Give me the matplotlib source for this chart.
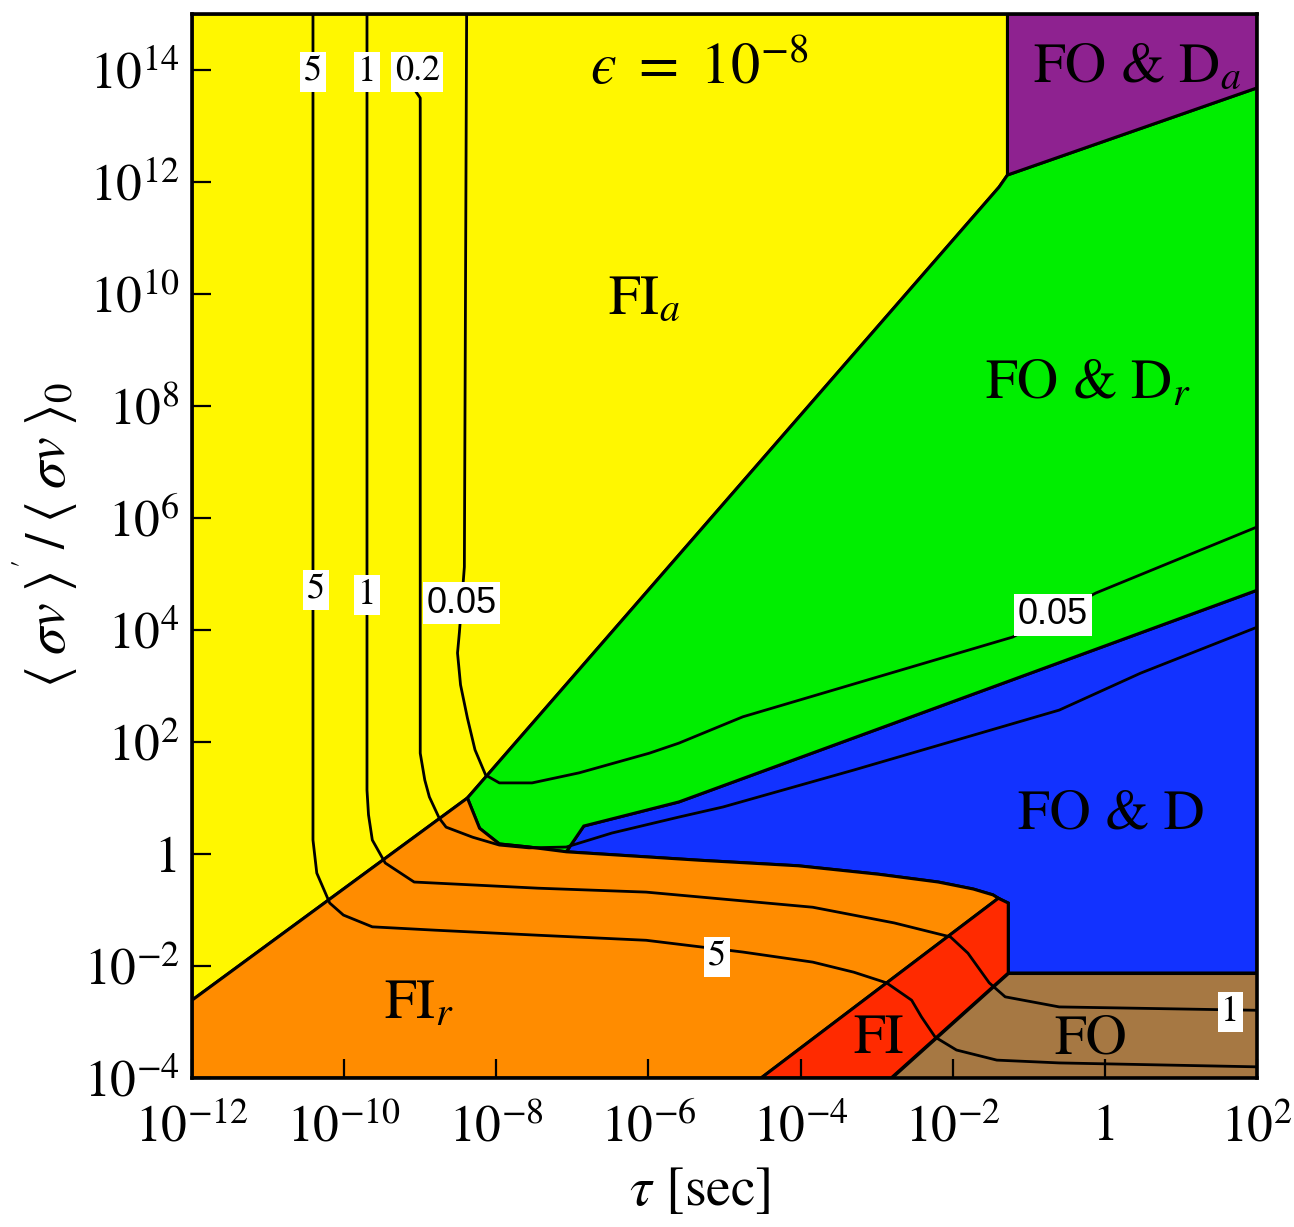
import matplotlib.pyplot as plt
import numpy as np

plt.rcParams["mathtext.fontset"] = "stix"
plt.rcParams["font.family"] = ["STIXGeneral", "Liberation Serif", "DejaVu Serif"]

# all coordinates are log10(tau / sec) and log10(<sv>'/<sv>_0)
x_ticks = [-12, -10, -8, -6, -4, -2, 0, 2]
y_ticks = [-4, -2, 0, 2, 4, 6, 8, 10, 12, 14]

# shared boundary pieces
orange_top = [(-7.08, 0.04), (-5.34, -0.11), (-4.03, -0.21), (-2.98, -0.36),
              (-2.19, -0.50), (-1.73, -0.625), (-1.47, -0.73), (-1.40, -0.79)]
green_blue = [(-7.08, 0.04), (-6.85, 0.50), (-5.60, 0.93), (2.0, 4.71)]

regions = {
    "FI_a": ("#FFF700", [(-12, -2.61), (-12, 15), (-1.28, 15), (-1.28, 12.125),
                         (-1.39, 11.91), (-8.38, 1.0)]),
    "FOD": ("#1232FF", green_blue + [(2.0, -2.125), (-1.27, -2.125), (-1.27, -0.875)]
            + orange_top[::-1]),
    "FOD_r": ("#00EE00", [(-8.38, 1.0), (-1.39, 11.91), (-1.28, 12.125), (2.0, 13.68)]
              + green_blue[::-1] + [(-7.57, 0.125), (-7.96, 0.18), (-8.22, 0.46)]),
    "FI_r": ("#FF8C00", [(-12, -4), (-12, -2.61), (-8.38, 1.0), (-8.22, 0.46),
                         (-7.96, 0.18), (-7.57, 0.125)] + orange_top + [(-4.52, -4)]),
    "FI": ("#FF2A00", [(-1.40, -0.79), (-1.27, -0.875), (-1.27, -2.125),
                       (-2.81, -4), (-4.52, -4)]),
    "FO": ("#A67843", [(-1.27, -2.125), (2.0, -2.125), (2.0, -4), (-2.81, -4)]),
    "FOD_a": ("#8E2290", [(-1.28, 15), (2.0, 15), (2.0, 13.68), (-1.28, 12.125)]),
}

# contour lines of constant value
contour_5 = [(-10.41, 15), (-10.41, 0.25), (-10.36, -0.34), (-10.19, -0.875),
             (-10.01, -1.09), (-9.63, -1.30), (-8.80, -1.36), (-7.45, -1.45),
             (-6.03, -1.54), (-4.76, -1.75), (-3.84, -1.93), (-3.30, -2.11),
             (-2.87, -2.30), (-2.54, -2.61), (-2.41, -2.91), (-2.23, -3.27),
             (-1.95, -3.50), (-1.42, -3.68), (-0.60, -3.73), (2.0, -3.80)]
contour_1 = [(-9.70, 15), (-9.70, 1.14), (-9.68, 0.70), (-9.63, 0.25),
             (-9.46, -0.16), (-9.08, -0.50), (-7.45, -0.61), (-6.03, -0.68),
             (-3.84, -0.95), (-2.77, -1.23), (-2.03, -1.48), (-1.80, -1.77),
             (-1.52, -2.30), (-1.31, -2.55), (-0.60, -2.73), (2.0, -2.79)]
contour_02 = [(-9.05, 13.60), (-9.00, 13.50), (-9.00, 1.80), (-8.94, 1.32),
              (-8.88, 1.02), (-8.75, 0.64), (-8.66, 0.48), (-8.31, 0.30),
              (-7.96, 0.16), (-7.57, 0.11), (-7.08, 0.125), (-6.48, 0.375),
              (-5.60, 0.66), (-5.02, 0.84), (-3.30, 1.50), (-0.60, 2.57),
              (0.47, 3.23), (2.0, 4.05)]
contour_005 = [(-8.39, 15), (-8.42, 5.125), (-8.485, 3.96), (-8.51, 3.59),
               (-8.47, 3.02), (-8.38, 2.43), (-8.28, 1.86), (-8.14, 1.41),
               (-7.96, 1.27), (-7.53, 1.27), (-6.91, 1.45), (-5.99, 1.80),
               (-5.60, 1.98), (-4.76, 2.45), (-1.21, 3.875), (-0.12, 4.66),
               (2.0, 5.84)]
contours = [contour_5, contour_1, contour_02, contour_005]

# inline contour labels: text, position, font
contour_labels = [
    ("5", (-10.41, 13.96), "serif"), ("1", (-9.70, 13.96), "serif"),
    ("0.2", (-9.04, 13.96), "serif"), ("5", (-10.37, 4.71), "serif"),
    ("1", (-9.70, 4.625), "serif"), ("0.05", (-8.46, 4.48), "sans"),
    ("0.05", (-0.68, 4.27), "sans"), ("5", (-5.10, -1.84), "serif"),
    ("1", (1.65, -2.82), "serif"),
]

region_labels = [
    (r"FI$_a$", (-6.06, 9.89)),
    (r"FO & D$_r$", (-0.22, 8.375)),
    (r"FO & D$_a$", (0.43, 14.04)),
    ("FO & D", (0.08, 0.70)),
    (r"FI$_r$", (-9.01, -2.70)),
    ("FI", (-2.98, -3.32)),
    ("FO", (-0.18, -3.32)),
]


def tick_label(e):
    return "1" if e == 0 else rf"$10^{{{e}}}$"


fig = plt.figure(figsize=(12.94, 12.27), dpi=100)
ax = fig.add_axes([0.1484, 0.1214, 0.8230, 0.8672])
ax.set_xscale("log")
ax.set_yscale("log")

for name, (color, pts) in regions.items():
    pts = np.array(pts)
    ax.fill(10 ** pts[:, 0], 10 ** pts[:, 1], facecolor=color,
            edgecolor="k", linewidth=2.2, zorder=1)

for c in contours:
    c = np.array(c)
    ax.plot(10 ** c[:, 0], 10 ** c[:, 1], color="k", lw=2.0, zorder=2)

for text, (lx, ly), kind in contour_labels:
    fam = ["Liberation Sans", "DejaVu Sans"] if kind == "sans" else None
    ax.text(10 ** lx, 10 ** ly, text, ha="center", va="center",
            fontsize=26, family=fam, zorder=3,
            bbox=dict(facecolor="white", edgecolor="none", pad=2.5))

for text, (lx, ly) in region_labels:
    ax.text(10 ** lx, 10 ** ly, text, ha="center", va="center",
            fontsize=41, zorder=3)

ax.text(10 ** -5.34, 10 ** 14.0, "$\u03f5\\ =\\ 10^{-8}$", ha="center",
        va="center", fontsize=42, zorder=3)

ax.set_xlim(1e-12, 1e2)
ax.set_ylim(1e-4, 1e15)
ax.set_xticks([10.0 ** e for e in x_ticks])
ax.set_xticklabels([tick_label(e) for e in x_ticks])
ax.set_yticks([10.0 ** e for e in y_ticks])
ax.set_yticklabels([tick_label(e) for e in y_ticks])
ax.minorticks_off()
ax.tick_params(direction="in", length=14, width=1.6, labelsize=37,
               top=False, right=False)
ax.tick_params(axis="x", pad=19)
ax.tick_params(axis="y", pad=9)
for s in ax.spines.values():
    s.set_linewidth(2.6)
    s.set_zorder(4)

ax.set_xlabel(r"$\tau$ [sec]", fontsize=40)
ax.xaxis.set_label_coords(0.477, -0.083)
ax.set_ylabel(r"$\langle\;\sigma v\;\rangle^{'}\,/\;\langle\;\sigma v\;\rangle_0$",
              fontsize=40)
ax.yaxis.set_label_coords(-0.105, 0.51)

fig.savefig("out.png", dpi=100)
